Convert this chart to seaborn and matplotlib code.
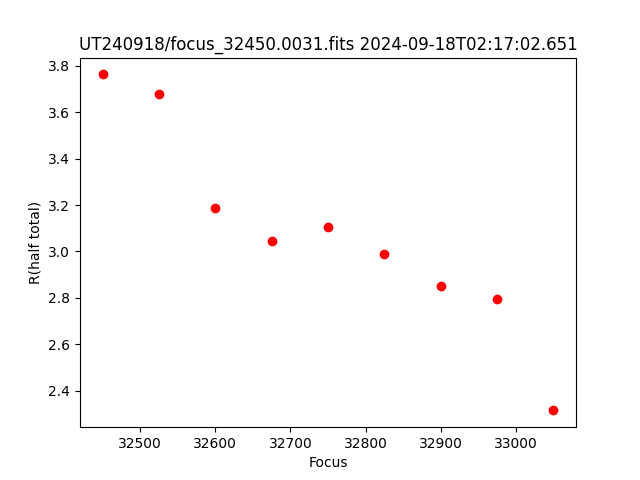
import numpy as np
import pandas as pd
import seaborn as sns
import matplotlib
matplotlib.use("Agg")
import matplotlib.pyplot as plt

focus = [32450, 32525, 32600, 32675, 32750, 32825, 32900, 32975, 33050]
r_half = [3.763, 3.677, 3.186, 3.044, 3.104, 2.988, 2.849, 2.797, 2.315]

df = pd.DataFrame({"Focus": focus, "R": r_half})

fig, ax = plt.subplots(figsize=(6.4, 4.8), dpi=100)
sns.scatterplot(data=df, x="Focus", y="R", color="red", edgecolor="red",
                s=36, linewidth=1, ax=ax)
ax.set_xlabel("Focus")
ax.set_ylabel("R(half total)")
ax.set_title("UT240918/focus_32450.0031.fits 2024-09-18T02:17:02.651")
fig.savefig("out.png")
